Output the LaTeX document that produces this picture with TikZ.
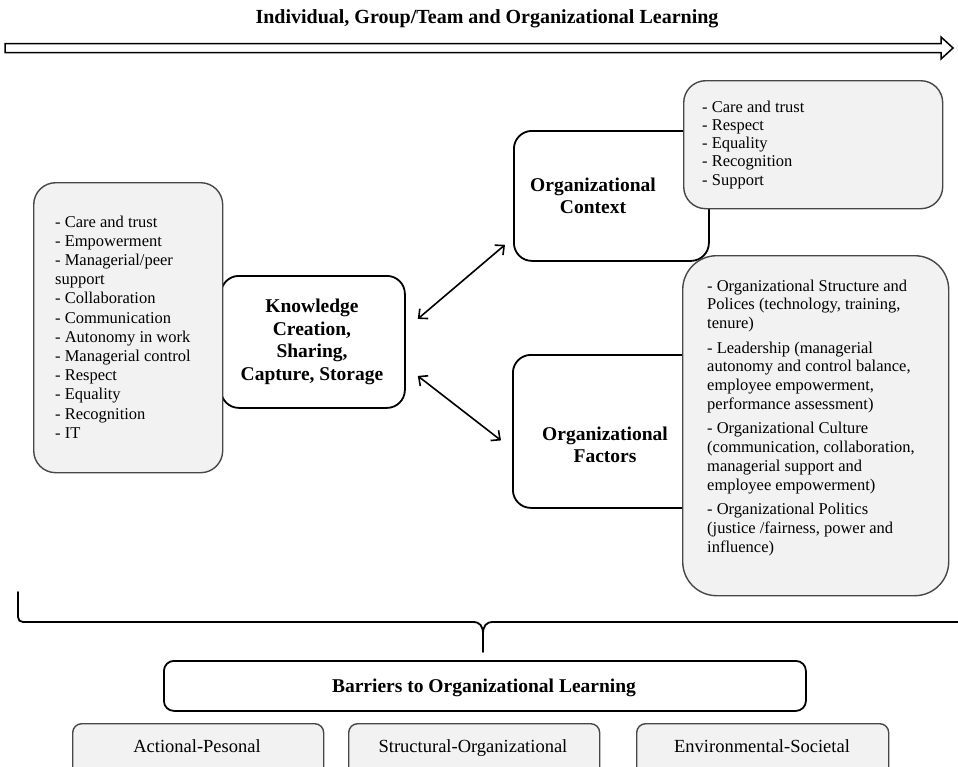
\documentclass[tikz,border=0pt]{standalone}
\usepackage{fontspec}
\setmainfont{Liberation Serif}
\usetikzlibrary{arrows.meta}
\newcommand{\listbox}[2]{\parbox[t]{#1}{\raggedright #2}}
\begin{document}
\begin{tikzpicture}[x=1pt,y=-1pt,
  graybox/.style={draw=black!72, line width=1.4pt, fill=black!5, inner sep=0pt, anchor=north west},
  whitebox/.style={draw=black, line width=1.8pt, fill=white, inner sep=0pt, anchor=north west},
  listtext/.style={font=\fontsize{16.5}{19.2}\selectfont, inner sep=0pt, anchor=base west},
  boldtext/.style={font=\fontsize{19.5}{22.5}\selectfont\bfseries, align=center, inner sep=0pt},
  plaintext/.style={font=\fontsize{18.5}{21}\selectfont, inner sep=0pt, anchor=base},
  link/.style={line width=1.6pt, {Straight Barb[length=7pt,width=13pt,line width=1.6pt]}-{Straight Barb[length=7pt,width=13pt,line width=1.6pt]}},
  bracestyle/.style={line width=1.8pt, line cap=round}
]
\useasboundingbox (0,0) rectangle (958,766);
\clip (0,0) rectangle (958,766);

% title and arrow
\node[font=\fontsize{20}{24}\selectfont\bfseries, inner sep=0pt, anchor=base] (title) at (487,23) {Individual, Group/Team and Organizational Learning};
\draw[line width=1.5pt, fill=white, line join=miter] (5,43.5) -- (941,43.5) -- (941,37) -- (953,48) -- (941,59) -- (941,52.5) -- (5,52.5) -- cycle;

% white boxes
\node[whitebox, rounded corners=18pt, minimum width=184pt, minimum height=132pt] (know) at (220,275) {};
\node[boldtext] (knowt) at (312,342) {Knowledge\\Creation,\\Sharing,\\Capture, Storage};
\node[whitebox, rounded corners=18pt, minimum width=195pt, minimum height=130pt] (ctx) at (513,130) {};
\node[boldtext] (ctxt) at (593,196) {Organizational\\Context};
\node[whitebox, rounded corners=18pt, minimum width=195pt, minimum height=153pt] (fac) at (512,354) {};
\node[boldtext] (fact) at (605,445) {Organizational\\Factors};

% gray boxes
\node[graybox, rounded corners=22pt, minimum width=189pt, minimum height=290pt] (left) at (33,182) {};
\node[listtext] (leftt) at (55,227) {\listbox{160pt}{- Care and trust\\- Empowerment\\- Managerial/peer\\support\\- Collaboration\\- Communication\\- Autonomy in work\\- Managerial control\\- Respect\\- Equality\\- Recognition\\- IT}};
\node[graybox, rounded corners=22pt, minimum width=259pt, minimum height=128pt] (ctxg) at (683,80) {};
\node[listtext, font=\fontsize{16.5}{18.3}\selectfont] (ctxgt) at (702,112) {\listbox{220pt}{- Care and trust\\- Respect\\- Equality\\- Recognition\\- Support}};
\node[graybox, rounded corners=34pt, minimum width=266pt, minimum height=340pt] (facg) at (682,255) {};
\node[listtext, font=\fontsize{16.5}{18.7}\selectfont] (facgt) at (707,291) {\listbox{238pt}{- Organizational Structure and\\Polices (technology, training,\\tenure)\\[6pt]- Leadership (managerial\\autonomy and control balance,\\employee empowerment,\\performance assessment)\\[6pt]- Organizational Culture\\(communication, collaboration,\\managerial support and\\employee empowerment)\\[6pt]- Organizational Politics\\(justice /fairness, power and\\influence)}};

% arrows
\draw[link] ([xshift=12pt,yshift=23pt]know.east) -- ([xshift=-8pt,yshift=17pt]ctx.south west);
\draw[link] ([xshift=12pt,yshift=-34pt]know.east) -- ([xshift=-11pt,yshift=-9pt]fac.west);

% brace
\coordinate (bl) at (18,592);
\coordinate (br) at (958,622);
\coordinate (btip) at (483,652);
\draw[bracestyle] (bl) -- (18,617) .. controls (18,620) and (20,622) .. (23,622) -- (473,622) .. controls (480,622) and (483,626) .. (483,634) -- (btip);
\draw[bracestyle] (br) -- (493,622) .. controls (486,622) and (483,626) .. (483,634);

% barriers
\node[whitebox, rounded corners=10pt, minimum width=642pt, minimum height=50pt] (bar) at (163,660) {};
\node[boldtext, anchor=base] (bart) at (484,692) {Barriers to Organizational Learning};
\node[graybox, rounded corners=9pt, minimum width=251pt, minimum height=60pt] (b1) at (72,723) {};
\node[plaintext] (b1t) at (197,752) {Actional-Pesonal};
\node[graybox, rounded corners=9pt, minimum width=251pt, minimum height=60pt] (b2) at (348,723) {};
\node[plaintext] (b2t) at (473,752) {Structural-Organizational};
\node[graybox, rounded corners=9pt, minimum width=252pt, minimum height=60pt] (b3) at (636,723) {};
\node[plaintext] (b3t) at (762,752) {Environmental-Societal};
\end{tikzpicture}
\end{document}
